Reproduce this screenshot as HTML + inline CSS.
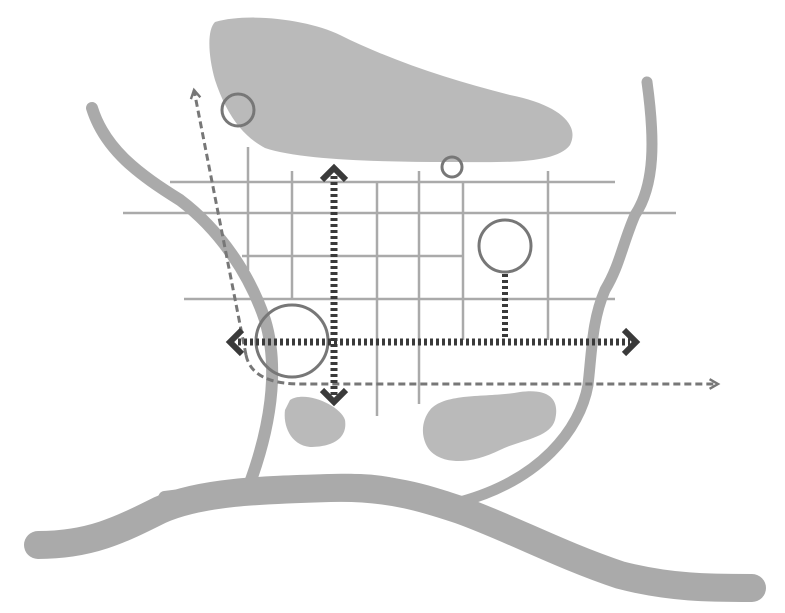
<!DOCTYPE html>
<html><head><style>html,body{margin:0;padding:0;background:#fff}svg{display:block}</style></head>
<body>
<svg width="785" height="613" viewBox="0 0 785 613" xmlns="http://www.w3.org/2000/svg">
<defs>
<marker id="ah" viewBox="0 0 10 10" refX="8" refY="5" markerWidth="4" markerHeight="4" orient="auto-start-reverse">
<path d="M1 1 L8 5 L1 9" fill="none" stroke="#777" stroke-width="2"/></marker>
</defs>
<!-- blobs -->
<path d="M215 22 C250 12 310 20 340 35 C390 60 450 80 510 95 C560 105 580 125 570 145 C555 165 500 162 450 162 C380 162 300 160 265 148 C240 135 225 110 215 80 C208 55 207 30 215 22 Z" fill="#bababa"/>
<path d="M290 400 C305 390 340 405 345 420 C348 440 330 447 310 447 C290 445 283 425 285 410 Z" fill="#bababa"/>
<path d="M430 410 C445 392 490 398 520 392 C550 388 560 400 555 420 C550 438 520 440 500 450 C470 465 440 465 428 448 C420 435 422 420 430 410 Z" fill="#bababa"/>
<!-- grid -->
<g stroke="#aaa" stroke-width="2.5" fill="none">
<line x1="170" y1="182" x2="615" y2="182"/>
<line x1="123" y1="213" x2="676" y2="213"/>
<line x1="242" y1="256" x2="463" y2="256"/>
<line x1="184" y1="299" x2="615" y2="299"/>
<line x1="248" y1="147" x2="248" y2="270"/>
<line x1="292" y1="171" x2="292" y2="298"/>
<line x1="377" y1="182" x2="377" y2="416"/>
<line x1="419" y1="171" x2="419" y2="404"/>
<line x1="463" y1="182" x2="463" y2="340"/>
<line x1="548" y1="171" x2="548" y2="340"/>
</g>
<!-- rivers -->
<g stroke="#aaa" fill="none" stroke-linecap="round">
<path d="M92 108 C105 150 140 175 180 200 C220 230 250 275 265 320 C280 370 270 430 248 488" stroke-width="12"/>
<path d="M647 82 C655 140 655 185 635 215 C622 245 620 265 605 290 C592 320 592 350 588 385 C580 430 540 480 460 502" stroke-width="11"/>
<path d="M38 545 C90 545 120 530 160 510 C200 492 260 490 330 488 C390 486 430 500 460 510 C510 528 560 555 620 575 C670 588 710 588 752 588" stroke-width="28"/>
<path d="M165 498 C240 488 300 480 360 481 C400 482 420 495 450 500" stroke-width="14"/>
</g>
<!-- circles -->
<g fill="none" stroke="#777" stroke-width="3">
<circle cx="238" cy="110" r="16"/>
<circle cx="452" cy="167" r="10"/>
<circle cx="505" cy="246" r="26"/>
<circle cx="292" cy="341" r="36"/>
</g>
<!-- dashed path -->
<path d="M246 355 C250 375 270 384 300 384 L718 384" fill="none" stroke="#777" stroke-width="3" stroke-dasharray="7 4" marker-end="url(#ah)"/>
<path d="M246 355 L194 90" fill="none" stroke="#777" stroke-width="3" stroke-dasharray="7 4" marker-end="url(#ah)"/>
<!-- dotted axes -->
<g stroke="#3a3a3a" fill="none">
<line x1="334" y1="176" x2="334" y2="396" stroke-width="7" stroke-dasharray="3 3"/>
<line x1="238" y1="342" x2="630" y2="342" stroke-width="7" stroke-dasharray="3 3"/>
<line x1="505" y1="274" x2="505" y2="340" stroke-width="6" stroke-dasharray="3 3"/>
<path d="M322 180 L334 168 L346 180" stroke-width="6"/>
<path d="M322 390 L334 402 L346 390" stroke-width="6"/>
<path d="M242 330 L230 342 L242 354" stroke-width="6"/>
<path d="M624 330 L636 342 L624 354" stroke-width="6"/>
</g>
</svg>
</body></html>
